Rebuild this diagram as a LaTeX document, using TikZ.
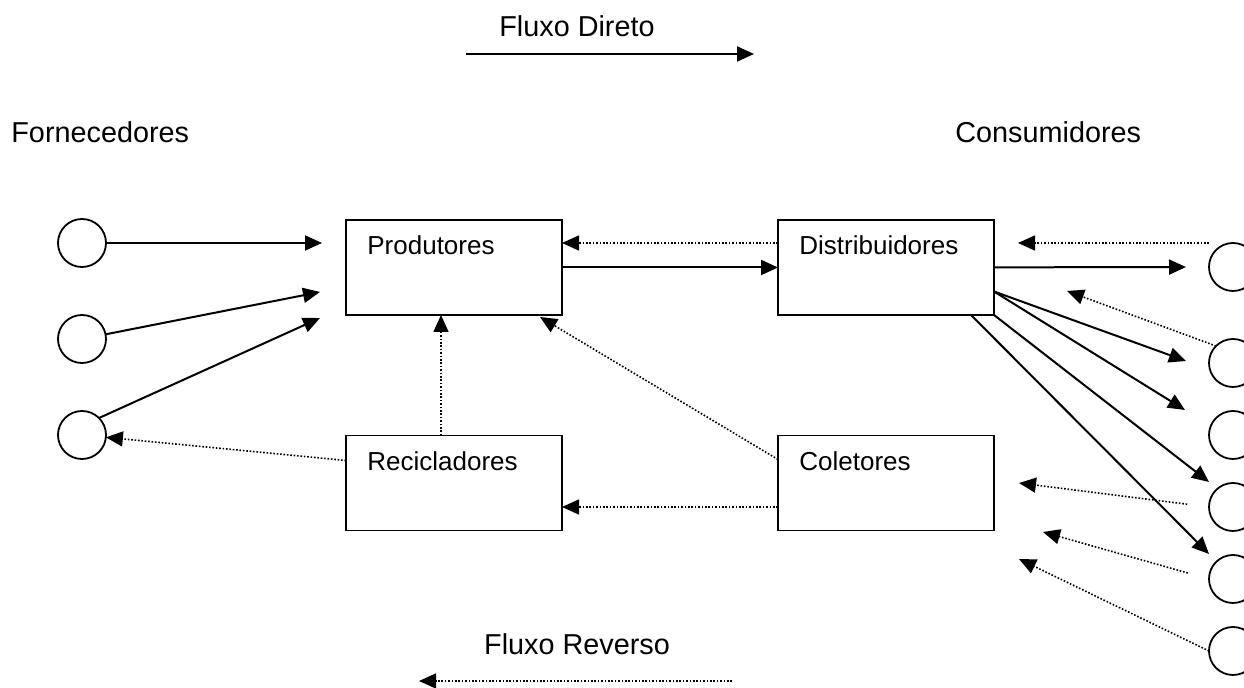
\documentclass[tikz,border=0pt]{standalone}
\usepackage{fontspec}
\setmainfont{Liberation Sans}
\usetikzlibrary{arrows.meta,calc}

\tikzset{
    circ/.style={circle, draw, line width=0.9pt, minimum size=24pt, inner sep=0pt, outer sep=0pt},
    caixa/.style={rectangle, draw, line width=0.9pt, minimum width=108pt, minimum height=47.5pt, inner sep=0pt, outer sep=0pt},
    rotulo/.style={anchor=base west, inner sep=0pt, font=\fontsize{13}{15}\selectfont},
    titulo/.style={inner sep=0pt, font=\fontsize{14.4}{17}\selectfont},
    direto/.style={-{Triangle[length=8.5pt,width=7.5pt]}, line width=1pt},
    reverso/.style={-{Triangle[length=8.5pt,width=7.5pt]}, line width=0.8pt, dash pattern=on 0.8pt off 0.9pt},
}

\begin{document}
\begin{tikzpicture}[x=0.5pt, y=-0.5pt]
    \useasboundingbox (0,0) rectangle (1244,688);

    % Titles
    \node[titulo, anchor=base] (tdireto) at (577,37) {Fluxo Direto};
    \node[titulo, anchor=base] (treverso) at (577,655) {Fluxo Reverso};
    \node[titulo, anchor=base west] (tforn) at (11,143) {Fornecedores};
    \node[titulo, anchor=base west] (tcons) at (955,143) {Consumidores};

    % Legend arrows
    \coordinate (d0) at (466,54);
    \coordinate (d1) at (754,54);
    \draw[direto] (d0) -- (d1);
    \coordinate (r0) at (732,681);
    \coordinate (r1) at (419,681);
    \draw[reverso] (r0) -- (r1);

    % Suppliers and consumers
    \foreach \i/\y in {1/243,2/339,3/435} {
        \node[circ] (f\i) at (82,\y) {};
    }
    \foreach \i/\y in {1/267,2/363,3/435,4/507,5/579,6/651} {
        \node[circ] (c\i) at (1233,\y) {};
    }

    % Boxes
    \node[caixa] (prod) at (454,267.5) {};
    \node[caixa] (dist) at (886,267.5) {};
    \node[caixa] (recic) at (454,483) {};
    \node[caixa] (colet) at (886,483) {};
    \node[rotulo] (lprod) at ($(prod.north west)+(21,35)$) {Produtores};
    \node[rotulo] (ldist) at ($(dist.north west)+(21,35)$) {Distribuidores};
    \node[rotulo] (lrecic) at ($(recic.north west)+(21,35)$) {Recicladores};
    \node[rotulo] (lcolet) at ($(colet.north west)+(21,35)$) {Coletores};

    % Arrow ends
    \coordinate (p1) at (322,243);
    \coordinate (p2) at (320,292);
    \coordinate (p3) at (320,318);
    \coordinate (p4) at (540,317);
    \coordinate (q2) at (1067,291);
    \coordinate (q3) at (1186,361);
    \coordinate (q4) at (1185,410);
    \coordinate (q5) at (1209,482);
    \coordinate (q6) at (1209,554);
    \coordinate (q7) at (1019,483);
    \coordinate (q8) at (1043,532);
    \coordinate (q9) at (1019,559);

    % Direct flow
    \draw[direto] (f1) -- (p1);
    \draw[direto] (f2) -- (p2);
    \draw[direto] (f3.north east) -- (p3);
    \draw[direto] (prod) -- (dist);
    \draw[direto, shorten >=11.5pt] (dist) -- (c1);
    \draw[direto] ($(dist.east)+(0,24)$) -- (q3);
    \draw[direto] ($(dist.east)+(0,24)$) -- (q4);
    \draw[direto] (dist.south east) -- (q5);
    \draw[direto] ($(dist.south east)+(-23,0)$) -- (q6);

    % Reverse flow
    \draw[reverso] ($(recic.north west)+(0,25)$) -- (f3);
    \draw[reverso] (dist.west |- f1) -- (prod.east |- f1);
    \draw[reverso] ($(recic.north)+(-13,0)$) -- ($(prod.south)+(-13,0)$);
    \draw[reverso] ($(colet.north west)+(0,24)$) -- (p4);
    \draw[reverso] ($(colet.west)+(0,24)$) -- ($(recic.east)+(0,24)$);
    \draw[reverso, shorten >=12pt] (c1.west |- f1) -- (dist.east |- f1);
    \draw[reverso] (c2.north west) -- (q2);
    \draw[reverso, shorten <=11pt] (c4.west) -- (q7);
    \draw[reverso, shorten <=11pt] (c5.west) -- (q8);
    \draw[reverso] (c6.west) -- (q9);
\end{tikzpicture}
\end{document}
